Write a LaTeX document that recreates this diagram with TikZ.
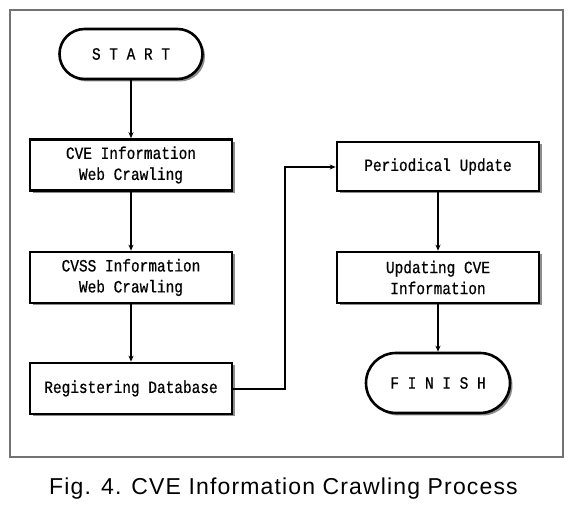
\documentclass[tikz,border=0pt]{standalone}
\usepackage{fontspec}
\setmainfont[FakeStretch=0.84,FakeBold=0.6]{Liberation Mono}
\newfontfamily\capfont[LetterSpace=5]{Liberation Sans}
\usetikzlibrary{arrows.meta,shadows}
\begin{document}
\begin{tikzpicture}[x=1pt,y=-1pt,
  stepbox/.style={draw=black,line width=2.6pt,fill=white,minimum width=202pt,minimum height=51pt,
    inner sep=0pt,align=center,font=\fontsize{17.2}{21}\selectfont,
    drop shadow={shadow xshift=2.5pt,shadow yshift=-2.5pt,fill=black!45,opacity=1}},
  term/.style={stepbox,rounded corners=25pt,minimum width=143pt,minimum height=50pt},
  conn/.style={line width=1.6pt,-{Stealth[length=6pt,width=5pt]}}]
\useasboundingbox (0,0) rectangle (582,510);
\draw[black!55,line width=1.2pt] (10,10) rectangle (563,457);
\node[term] (start) at (131,54) {S T A R T};
\node[stepbox] (cve) at (131,165) {CVE Information\\Web Crawling};
\node[stepbox] (cvss) at (131,277.5) {CVSS Information\\Web Crawling};
\node[stepbox] (reg) at (131,388.5) {Registering Database};
\node[stepbox,minimum height=49pt] (per) at (438,166.5) {Periodical Update};
\node[stepbox] (upd) at (438,277.5) {Updating CVE\\Information};
\node[term,minimum width=144pt,minimum height=60pt,rounded corners=30pt] (fin) at (438,383) {F I N I S H};
\coordinate (c1) at (285,389);
\coordinate (c2) at (285,167);
\draw[conn] (start) -- (cve);
\draw[conn] (cve) -- (cvss);
\draw[conn] (cvss) -- (reg);
\draw[conn] (reg.east |- c1) -- (c1) -- (c2) -- (per.west |- c2);
\draw[conn] (per) -- (upd);
\draw[conn] (upd) -- (fin);
\node[font=\capfont\fontsize{23}{26}\selectfont] (cap) at (283.5,489) {Fig. 4. CVE Information Crawling Process};
\end{tikzpicture}
\end{document}
